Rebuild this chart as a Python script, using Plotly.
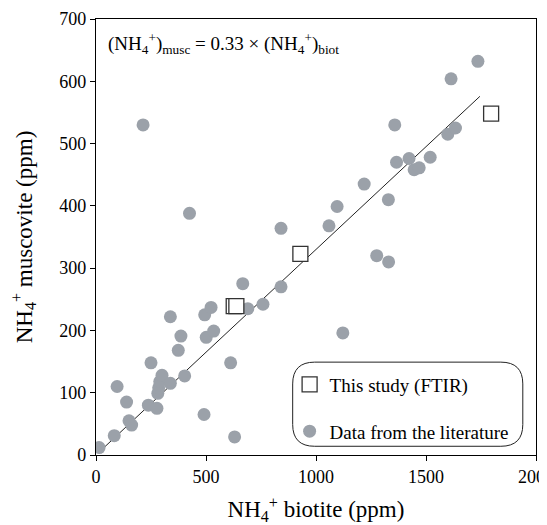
# Amonio en moscovita frente a biotita
import plotly.graph_objects as go
import numpy as np

# Datos de la literatura (biotita, moscovita) en ppm
lit_biot = [14, 83, 96, 139, 150, 162, 238, 250, 277, 281, 285, 290, 300, 338, 338,
            374, 386, 403, 425, 214, 491, 494, 501, 523, 535, 612, 630, 667, 690, 759,
            841, 841, 1059, 1096, 1122, 1219, 1276, 1330, 1329, 1358, 1366, 1423, 1446,
            1469, 1519, 1599, 1614, 1634, 1736]
lit_musc = [12, 31, 110, 85, 55, 48, 80, 148, 75, 99, 108, 118, 128, 115, 222,
            168, 191, 127, 388, 530, 65, 225, 189, 237, 199, 148, 29, 275, 235, 242,
            364, 270, 368, 399, 196, 435, 320, 310, 410, 530, 470, 476, 458,
            461, 478, 515, 604, 525, 632]

# Este estudio (FTIR)
ftir_biot = [626, 638, 929, 1796]
ftir_musc = [239, 239, 323, 548]

# Recta de ajuste
pendiente = 0.33
recta_x = np.array([15, 1745])
recta_y = pendiente * recta_x

fuente = "Liberation Serif, Times New Roman, serif"

fig = go.Figure()

fig.add_trace(go.Scatter(
    x=recta_x, y=recta_y, mode="lines",
    line=dict(color="#222222", width=1),
    showlegend=False, hoverinfo="skip",
))

fig.add_trace(go.Scatter(
    x=lit_biot, y=lit_musc, mode="markers",
    marker=dict(symbol="circle", size=13, color="#9ba1a9"),
    name="Data from the literature", legendgroup="b", legendrank=2,
))

fig.add_trace(go.Scatter(
    x=ftir_biot, y=ftir_musc, mode="markers",
    marker=dict(symbol="square", size=15, color="white",
                line=dict(color="#333333", width=1.3)),
    name="This study (FTIR)", legendgroup="a", legendrank=1,
))

# Caja redondeada de la leyenda
x0, x1, y0, y1 = 0.447, 0.970, 0.020, 0.213
r = 0.05
ruta = (f"M {x0+r},{y0} L {x1-r},{y0} Q {x1},{y0} {x1},{y0+r} "
        f"L {x1},{y1-r} Q {x1},{y1} {x1-r},{y1} L {x0+r},{y1} "
        f"Q {x0},{y1} {x0},{y1-r} L {x0},{y0+r} Q {x0},{y0} {x0+r},{y0} Z")
fig.add_shape(type="path", path=ruta, xref="paper", yref="paper",
              line=dict(color="#222222", width=1), fillcolor="white", layer="below")

# Ecuación
fig.add_annotation(
    x=0.022, y=0.98, xref="paper", yref="paper", xanchor="left", yanchor="top",
    text="(NH<sub>4</sub><sup>+</sup>)<sub>musc</sub> = 0.33 × (NH<sub>4</sub><sup>+</sup>)<sub>biot</sub>",
    showarrow=False, font=dict(family=fuente, size=19, color="black"),
)

# la página añade 8 px de margen al cuerpo; se compensa aquí
fig.update_layout(
    width=539, height=517,
    margin=dict(l=88, r=11, t=11, b=70, autoexpand=False),
    paper_bgcolor="white", plot_bgcolor="white",
    font=dict(family=fuente, size=18, color="black"),
    legend=dict(x=0.440, y=0.205, xanchor="left", yanchor="top",
                bgcolor="rgba(0,0,0,0)", tracegroupgap=19,
                font=dict(family=fuente, size=19), itemwidth=30),
)

fig.update_xaxes(
    range=[0, 2000], tickvals=[0, 500, 1000, 1500, 2000], ticklabeloverflow="allow",
    automargin=False,
    showgrid=False, zeroline=False, showline=True, linecolor="black", linewidth=1.3,
    mirror=True, ticks="outside", ticklen=5, tickcolor="black",
    title=dict(text="NH<sub>4</sub><sup>+</sup> biotite (ppm)", font=dict(size=23), standoff=32),
)
fig.update_yaxes(
    range=[0, 700], tickvals=list(range(0, 701, 100)), ticklabeloverflow="allow",
    automargin=False,
    showgrid=False, zeroline=False, showline=True, linecolor="black", linewidth=1.3,
    mirror=True, ticks="outside", ticklen=5, tickcolor="black",
    title=dict(text="NH<sub>4</sub><sup>+</sup> muscovite (ppm)", font=dict(size=23), standoff=26),
)

fig.write_html("out.html")
